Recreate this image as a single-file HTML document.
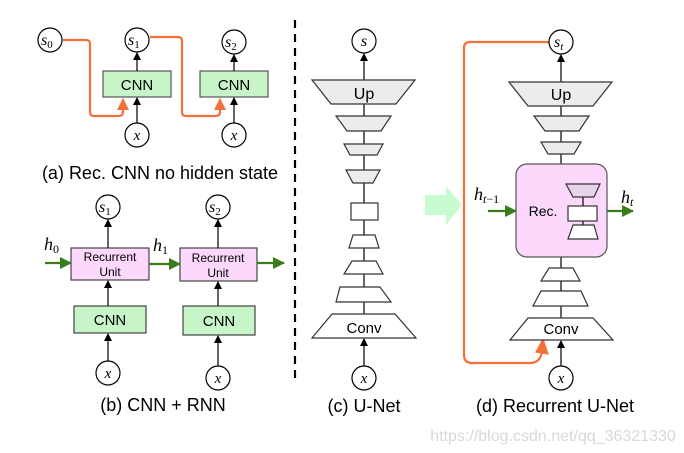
<!DOCTYPE html>
<html><head><meta charset="utf-8"><style>
html,body{margin:0;padding:0;background:#fff;}
svg{display:block}
text{font-family:"Liberation Sans",sans-serif;}
.m{font-family:"Liberation Serif",serif;font-style:italic;}
.n{font-style:normal;}
</style></head><body>
<svg width="684" height="453" viewBox="0 0 684 453" xmlns="http://www.w3.org/2000/svg">
<defs>
<marker id="ab" markerWidth="8" markerHeight="8" refX="7" refY="4" orient="auto" markerUnits="userSpaceOnUse"><path d="M0,0L8,4L0,8z" fill="#000"/></marker>
<marker id="ao" markerWidth="12" markerHeight="12" refX="11" refY="6" orient="auto" markerUnits="userSpaceOnUse"><path d="M0,0L12,6L0,12z" fill="#f4703a"/></marker>
<marker id="ag" markerWidth="12" markerHeight="12" refX="11" refY="6" orient="auto" markerUnits="userSpaceOnUse"><path d="M0,0L12,6L0,12z" fill="#3a7d1a"/></marker>
</defs>
<g stroke="#000" stroke-width="1.2" fill="none">
<path d="M63,40H86Q90,40 90,44V112Q90,116 94,116H118Q123,116 123,112V99" stroke="#f4703a" stroke-width="2.2" marker-end="url(#ao)"/>
<path d="M150,37H178Q182,37 182,41V112Q182,116 186,116H215Q220,116 220,112V99" stroke="#f4703a" stroke-width="2.2" marker-end="url(#ao)"/>
<circle cx="50" cy="40" r="12" fill="#fff"/>
<circle cx="137" cy="40" r="12" fill="#fff"/>
<circle cx="234" cy="42" r="12" fill="#fff"/>
<rect x="103" y="71" width="68" height="26" fill="#c8f5c8" stroke="#555"/>
<rect x="200" y="71" width="68" height="26" fill="#c8f5c8" stroke="#555"/>
<circle cx="137" cy="135" r="12" fill="#fff"/>
<circle cx="234" cy="135" r="12" fill="#fff"/>
<line x1="137" y1="71" x2="137" y2="53" marker-end="url(#ab)"/>
<line x1="234" y1="71" x2="234" y2="55" marker-end="url(#ab)"/>
<line x1="137" y1="123" x2="137" y2="98" marker-end="url(#ab)"/>
<line x1="234" y1="123" x2="234" y2="98" marker-end="url(#ab)"/>
<circle cx="108" cy="207" r="12" fill="#fff"/>
<circle cx="218" cy="207" r="12" fill="#fff"/>
<rect x="71" y="248" width="78" height="32" fill="#fcd9fc" stroke="#444"/>
<rect x="180" y="248" width="77" height="33" fill="#fcd9fc" stroke="#444"/>
<rect x="74" y="306" width="72" height="27" fill="#c8f5c8" stroke="#444"/>
<rect x="183" y="306" width="72" height="29" fill="#c8f5c8" stroke="#444"/>
<circle cx="108" cy="373" r="12" fill="#fff"/>
<circle cx="218" cy="378" r="12" fill="#fff"/>
<line x1="108" y1="248" x2="108" y2="220" marker-end="url(#ab)"/>
<line x1="218" y1="248" x2="218" y2="220" marker-end="url(#ab)"/>
<line x1="108" y1="306" x2="108" y2="281" marker-end="url(#ab)"/>
<line x1="218" y1="306" x2="218" y2="282" marker-end="url(#ab)"/>
<line x1="108" y1="361" x2="108" y2="334" marker-end="url(#ab)"/>
<line x1="218" y1="366" x2="218" y2="336" marker-end="url(#ab)"/>
<line x1="45" y1="263" x2="71" y2="263" stroke="#3a7d1a" stroke-width="2.2" marker-end="url(#ag)"/>
<line x1="149" y1="264" x2="180" y2="264" stroke="#3a7d1a" stroke-width="2.2" marker-end="url(#ag)"/>
<line x1="257" y1="263" x2="284" y2="263" stroke="#3a7d1a" stroke-width="2.2" marker-end="url(#ag)"/>
<line x1="295" y1="20" x2="295" y2="378" stroke-width="2.2" stroke-dasharray="8,6"/>
<line x1="364" y1="314" x2="364" y2="104"/>
<line x1="364" y1="80" x2="364" y2="54" marker-end="url(#ab)"/>
<line x1="364" y1="366" x2="364" y2="339" marker-end="url(#ab)"/>
<circle cx="364" cy="41" r="12" fill="#fff"/>
<path d="M312,80H415L396,104H331Z" fill="#ececec" stroke="#333"/>
<path d="M336,116H391L381,131H347Z" fill="#ececec" stroke="#333"/>
<path d="M344,144H383L377,155H350Z" fill="#ececec" stroke="#333"/>
<path d="M346,170H380L373,183H353Z" fill="#ececec" stroke="#333"/>
<rect x="351" y="203" width="27" height="17" fill="#fff" stroke="#333"/>
<path d="M353,235H375L379,248H349Z" fill="#fff" stroke="#333"/>
<path d="M352,261H376L383,274H344Z" fill="#fff" stroke="#333"/>
<path d="M340,287H380L391,302H336Z" fill="#fff" stroke="#333"/>
<path d="M332,314H395L416,338H312Z" fill="#fff" stroke="#333"/>
<circle cx="364" cy="378" r="12" fill="#fff"/>
<path d="M425,195H446V186L462,205L446,225V215H425Z" fill="#c8fcd0" stroke="none"/>
<path d="M549,42H470Q464,42 464,48V355Q464,363 472,363H530Q540,363 542,352" stroke="#f4703a" stroke-width="2.2"/>
<path d="M536,352L543,339L548,354Z" fill="#f4703a" stroke="#f4703a"/>
<line x1="561" y1="318" x2="561" y2="106"/>
<line x1="561" y1="82" x2="561" y2="55" marker-end="url(#ab)"/>
<line x1="561" y1="366" x2="561" y2="341" marker-end="url(#ab)"/>
<circle cx="561" cy="42" r="12" fill="#fff"/>
<path d="M509,82H612L593,106H528Z" fill="#ececec" stroke="#333"/>
<path d="M534,116H589L579,131H545Z" fill="#ececec" stroke="#333"/>
<path d="M541,142H581L574,154H548Z" fill="#ececec" stroke="#333"/>
<rect x="516" y="164" width="91" height="93" rx="11" fill="#fcd9fc" stroke="#555"/>
<line x1="583" y1="197" x2="583" y2="230"/>
<path d="M566,184H600L594,197H573Z" fill="#e8d4ea" stroke="#333"/>
<rect x="568" y="206" width="29" height="15" fill="#fff" stroke="#333"/>
<path d="M573,225H594L598,239H568Z" fill="#fff" stroke="#333"/>
<path d="M549,268H573L580,281H541Z" fill="#fff" stroke="#333"/>
<path d="M541,291H581L588,306H533Z" fill="#fff" stroke="#333"/>
<path d="M528,318H593L613,340H510Z" fill="#fff" stroke="#333"/>
<circle cx="561" cy="378" r="12" fill="#fff"/>
<line x1="488" y1="211" x2="516" y2="211" stroke="#3a7d1a" stroke-width="2.2" marker-end="url(#ag)"/>
<line x1="607" y1="211" x2="633" y2="211" stroke="#3a7d1a" stroke-width="2.2" marker-end="url(#ag)"/>
</g>
<g fill="#000">
<text class="m" x="41" y="45" font-size="16">s<tspan class="n" font-size="11" dy="3">0</tspan></text>
<text class="m" x="128" y="45" font-size="16">s<tspan class="n" font-size="11" dy="3">1</tspan></text>
<text class="m" x="225" y="47" font-size="16">s<tspan class="n" font-size="11" dy="3">2</tspan></text>
<text x="137" y="90" font-size="15" text-anchor="middle">CNN</text>
<text x="234" y="90" font-size="15" text-anchor="middle">CNN</text>
<text class="m" x="137" y="140" font-size="15" text-anchor="middle">x</text>
<text class="m" x="234" y="140" font-size="15" text-anchor="middle">x</text>
<text x="160" y="179" font-size="18" text-anchor="middle">(a) Rec. CNN no hidden state</text>
<text class="m" x="99" y="212" font-size="16">s<tspan class="n" font-size="11" dy="3">1</tspan></text>
<text class="m" x="209" y="212" font-size="16">s<tspan class="n" font-size="11" dy="3">2</tspan></text>
<text x="110" y="261" font-size="12" text-anchor="middle">Recurrent</text>
<text x="110" y="276" font-size="12" text-anchor="middle">Unit</text>
<text x="218" y="262" font-size="12" text-anchor="middle">Recurrent</text>
<text x="218" y="277" font-size="12" text-anchor="middle">Unit</text>
<text x="110" y="325" font-size="15" text-anchor="middle">CNN</text>
<text x="219" y="326" font-size="15" text-anchor="middle">CNN</text>
<text class="m" x="108" y="378" font-size="15" text-anchor="middle">x</text>
<text class="m" x="218" y="383" font-size="15" text-anchor="middle">x</text>
<text class="m" x="44" y="250" font-size="18">h<tspan class="n" font-size="12" dy="3">0</tspan></text>
<text class="m" x="153" y="251" font-size="18">h<tspan class="n" font-size="12" dy="3">1</tspan></text>
<text x="163" y="411" font-size="18" text-anchor="middle">(b) CNN + RNN</text>
<text class="m" x="364" y="46" font-size="16" text-anchor="middle">s</text>
<text x="364" y="99" font-size="16" text-anchor="middle">Up</text>
<text x="364" y="333" font-size="15" text-anchor="middle">Conv</text>
<text class="m" x="364" y="383" font-size="15" text-anchor="middle">x</text>
<text x="364" y="412" font-size="18" text-anchor="middle">(c) U-Net</text>
<text class="m" x="554" y="47" font-size="16">s<tspan font-size="11" dy="3">t</tspan></text>
<text x="561" y="100" font-size="16" text-anchor="middle">Up</text>
<text x="543" y="216" font-size="14" text-anchor="middle">Rec.</text>
<text x="561" y="334" font-size="15" text-anchor="middle">Conv</text>
<text class="m" x="561" y="383" font-size="15" text-anchor="middle">x</text>
<text class="m" x="474" y="200" font-size="18">h<tspan font-size="12" dy="3">t<tspan class="n">−1</tspan></tspan></text>
<text class="m" x="621" y="203" font-size="18">h<tspan font-size="12" dy="3">t</tspan></text>
<text x="555" y="412" font-size="18" text-anchor="middle">(d) Recurrent U-Net</text>
<text x="553" y="441" font-size="16" text-anchor="middle" fill="#d8d8d8">https://blog.csdn.net/qq_36321330</text>
</g>
</svg>
</body></html>
